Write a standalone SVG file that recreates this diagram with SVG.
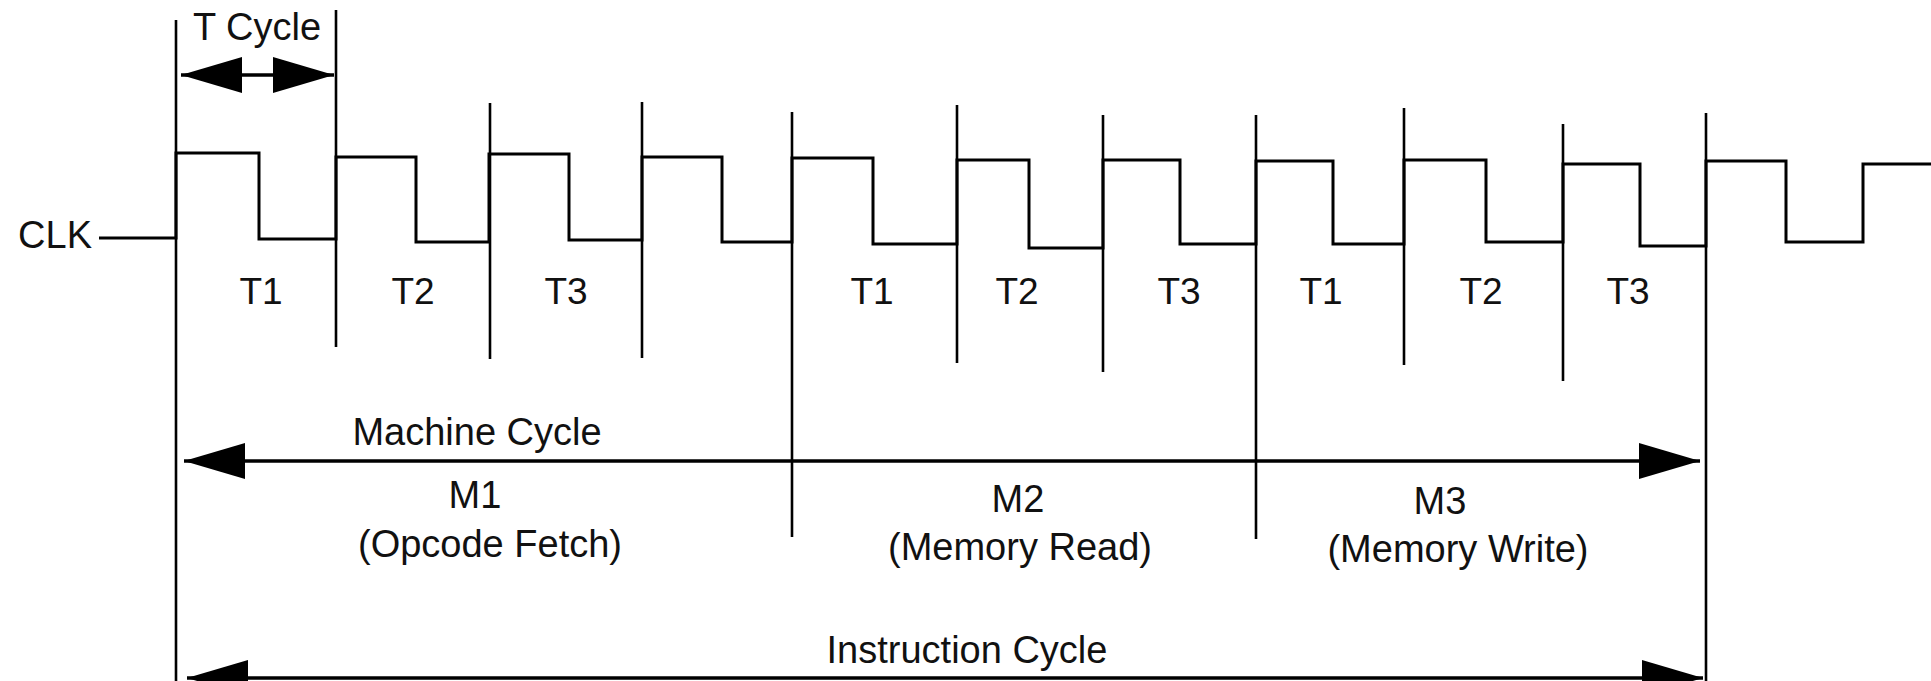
<svg xmlns="http://www.w3.org/2000/svg" width="1931" height="681" viewBox="0 0 1931 681">
<style>
  .wave{fill:none;stroke:#000;stroke-width:3;stroke-linejoin:miter}
  .tick{stroke:#000;stroke-width:2.6;fill:none}
  .arr{stroke:#000;stroke-width:3.5;fill:none}
  .lbl{font-family:"Liberation Sans",Arial,sans-serif;font-size:38px;fill:#111}
  .t{font-size:37px;text-anchor:middle}
  .c{text-anchor:middle}
</style>
<defs>
  <marker id="ah" markerUnits="userSpaceOnUse" markerWidth="62" markerHeight="36" viewBox="0 0 62 36" refX="61" refY="18" orient="auto-start-reverse">
    <path d="M0,0 L61,18 L0,36 Z" fill="#000"/>
  </marker>
</defs>
<rect width="1931" height="681" fill="#fff"/>
<g id="clock">
  <path class="wave" d="M99,238 H176 V153 H259 V239 H336 V157 H416 V242 H489 V154 H569 V240 H642 V157 H722 V242 H792 V158 H873 V244 H957 V160 H1029 V248 H1103 V160 H1180 V244 H1256 V161 H1333 V244 H1404 V160 H1486 V242 H1563 V164 H1640 V246 H1706 V161 H1786 V242 H1863 V164 H1931"/>
  <text class="lbl" x="92" y="248" text-anchor="end">CLK</text>
</g>
<g id="boundaries">
  <line class="tick" x1="176" y1="20" x2="176" y2="681"/>
  <line class="tick" x1="336" y1="10" x2="336" y2="347"/>
  <line class="tick" x1="490" y1="103" x2="490" y2="359"/>
  <line class="tick" x1="642" y1="102" x2="642" y2="358"/>
  <line class="tick" x1="792" y1="112" x2="792" y2="537"/>
  <line class="tick" x1="957" y1="105" x2="957" y2="363"/>
  <line class="tick" x1="1103" y1="115" x2="1103" y2="372"/>
  <line class="tick" x1="1256" y1="115" x2="1256" y2="539"/>
  <line class="tick" x1="1404" y1="108" x2="1404" y2="365"/>
  <line class="tick" x1="1563" y1="124" x2="1563" y2="381"/>
  <line class="tick" x1="1706" y1="113" x2="1706" y2="681"/>
</g>
<g id="tlabels">
  <text class="lbl t" x="261" y="304">T1</text>
  <text class="lbl t" x="413" y="304">T2</text>
  <text class="lbl t" x="566" y="304">T3</text>
  <text class="lbl t" x="872" y="304">T1</text>
  <text class="lbl t" x="1017" y="304">T2</text>
  <text class="lbl t" x="1179" y="304">T3</text>
  <text class="lbl t" x="1321" y="304">T1</text>
  <text class="lbl t" x="1481" y="304">T2</text>
  <text class="lbl t" x="1628" y="304">T3</text>
</g>
<g id="connectors">
  <line class="arr" x1="181" y1="75" x2="334" y2="75" marker-start="url(#ah)" marker-end="url(#ah)"/>
  <line class="arr" x1="184" y1="461" x2="1700" y2="461" marker-start="url(#ah)" marker-end="url(#ah)"/>
  <line class="arr" x1="187" y1="678" x2="1703" y2="678" marker-start="url(#ah)" marker-end="url(#ah)"/>
</g>
<g id="tcycle">
  <text class="lbl c" x="257" y="40">T Cycle</text>
</g>
<g id="machine">
  <text class="lbl c" x="477" y="445">Machine Cycle</text>
</g>
<g id="m1">
  <text class="lbl c" x="475" y="508">M1</text>
  <text class="lbl c" x="490" y="557">(Opcode Fetch)</text>
</g>
<g id="m2">
  <text class="lbl c" x="1018" y="512">M2</text>
  <text class="lbl c" x="1020" y="560">(Memory Read)</text>
</g>
<g id="m3">
  <text class="lbl c" x="1440" y="514">M3</text>
  <text class="lbl c" x="1458" y="562">(Memory Write)</text>
</g>
<g id="instruction">
  <text class="lbl c" x="967" y="663">Instruction Cycle</text>
</g>
</svg>
